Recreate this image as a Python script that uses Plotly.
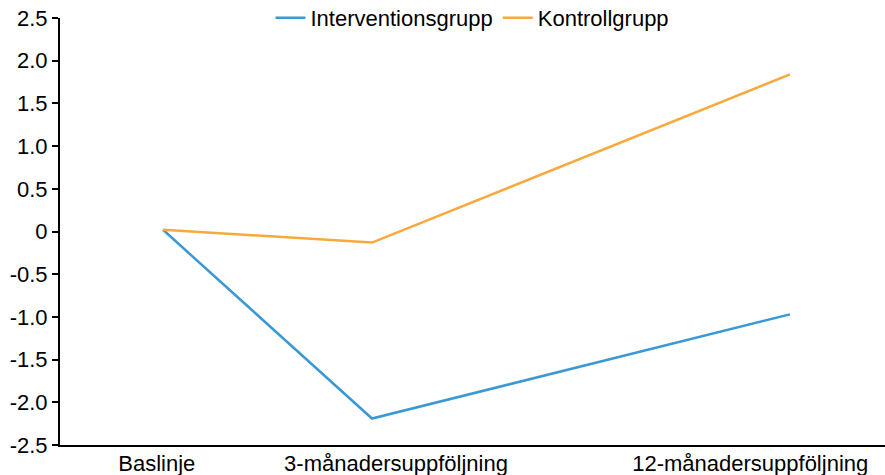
import plotly.graph_objects as go

categories = ["Baslinje", "3-månadersuppföljning", "12-månadersuppföljning"]
x_index = [0, 1, 3]
intervention = [0.02, -2.19, -0.97]
kontroll = [0.02, -0.13, 1.84]
y_ticks = [-2.5, -2.0, -1.5, -1.0, -0.5, 0, 0.5, 1.0, 1.5, 2.0, 2.5]
y_ticktext = ["-2.5", "-2.0", "-1.5", "-1.0", "-0.5", "0", "0.5", "1.0", "1.5", "2.0", "2.5"]

# label positions (slight offsets as in the reference)
label_pos = [-0.03, 1.115, 2.81]

fig = go.Figure()
fig.add_trace(go.Scatter(x=x_index, y=intervention, mode="lines", name="Interventionsgrupp",
                         line=dict(color="#3a98d4", width=2.5)))
fig.add_trace(go.Scatter(x=x_index, y=kontroll, mode="lines", name="Kontrollgrupp",
                         line=dict(color="#f8a93c", width=2.5)))

fig.update_layout(
    width=885, height=475,
    margin=dict(l=60, r=0, t=18, b=30, autoexpand=False),
    paper_bgcolor="white", plot_bgcolor="white",
    font=dict(family="Liberation Sans, Arial, sans-serif", size=22, color="black"),
    showlegend=True,
    legend=dict(orientation="h", x=0.5, xanchor="center", y=1.0, yanchor="middle",
                font=dict(size=22), bgcolor="rgba(0,0,0,0)", itemwidth=30),
    xaxis=dict(range=[-0.493, 3.455], tickvals=label_pos, ticktext=categories,
               showgrid=False, zeroline=False, showline=True, linecolor="black", linewidth=2,
               ticks="", tickfont=dict(size=22), automargin=False, ticklabelstandoff=-2),
    yaxis=dict(range=[-2.5, 2.5], tickvals=y_ticks, ticktext=y_ticktext,
               showgrid=False, zeroline=False, showline=True, linecolor="black", linewidth=2,
               ticks="outside", ticklen=6, tickwidth=2, tickcolor="black",
               tickfont=dict(size=22), automargin=False),
)

fig.write_html("out.html", config={"displayModeBar": False},
               post_script="document.body.style.margin='0';document.body.style.overflow='hidden';")
